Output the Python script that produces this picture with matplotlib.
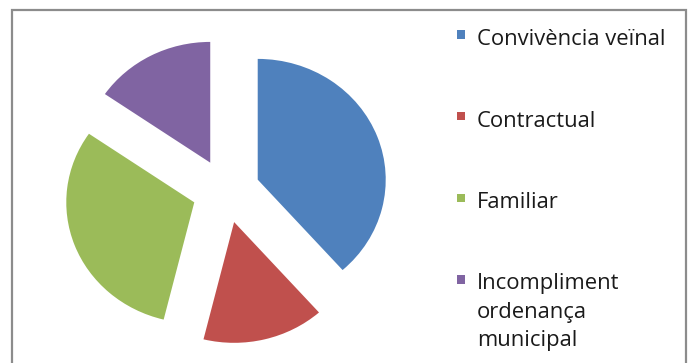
import matplotlib
matplotlib.use("Agg")
import matplotlib.pyplot as plt
from matplotlib.patches import Rectangle

# data
categories = [
    "Convivència veïnal",
    "Contractual",
    "Familiar",
    "Incompliment\nordenança\nmunicipal",
]
values = [5, 2, 4, 2]
colors = ["#4F81BD", "#C0504D", "#9BBB59", "#8064A2"]

W, H = 694, 363
fig = plt.figure(figsize=(W / 100, H / 100), dpi=100)

# axes in pixel units; y a bit squashed like the stretched original
squash = 1.06
ax = fig.add_axes([0, 0, 1, 1])

radius = 128
center = (226, (H - 191) * squash)

ax.pie(
    values,
    colors=colors,
    startangle=90,
    counterclock=False,
    radius=radius,
    center=center,
    explode=[0.265 * radius] * len(values),
    wedgeprops=dict(linewidth=0),
)
ax.set_aspect("auto")
ax.set_xlim(0, W)
ax.set_ylim(0, H * squash)
ax.axis("off")

# outer frame
fig.patches.append(
    Rectangle(
        (12 / W, -0.1),
        (686 - 12) / W,
        1.1 - 10 / H,
        transform=fig.transFigure,
        fill=False,
        edgecolor="#8c8c8c",
        linewidth=1.6,
    )
)

# legend
font = "Open Sans"
base0 = 45
pitch = 81.7
line_px = 28
sq = 8.5
for i, (label, c) in enumerate(zip(categories, colors)):
    yb = base0 + i * pitch
    fig.patches.append(
        Rectangle(
            (456.5 / W, 1 - (yb - 10.5 + sq / 2) / H),
            sq / W,
            sq / H,
            transform=fig.transFigure,
            facecolor=c,
            edgecolor="none",
        )
    )
    # baseline alignment uses the last line, so shift down for wrapped labels
    extra = label.count("\n") * line_px
    fig.text(
        477 / W,
        1 - (yb + extra) / H,
        label,
        ha="left",
        va="baseline",
        fontsize=15.8,
        family=font,
        color="#1a1a1a",
        linespacing=1.47,
    )

fig.savefig("out.png", dpi=100)
